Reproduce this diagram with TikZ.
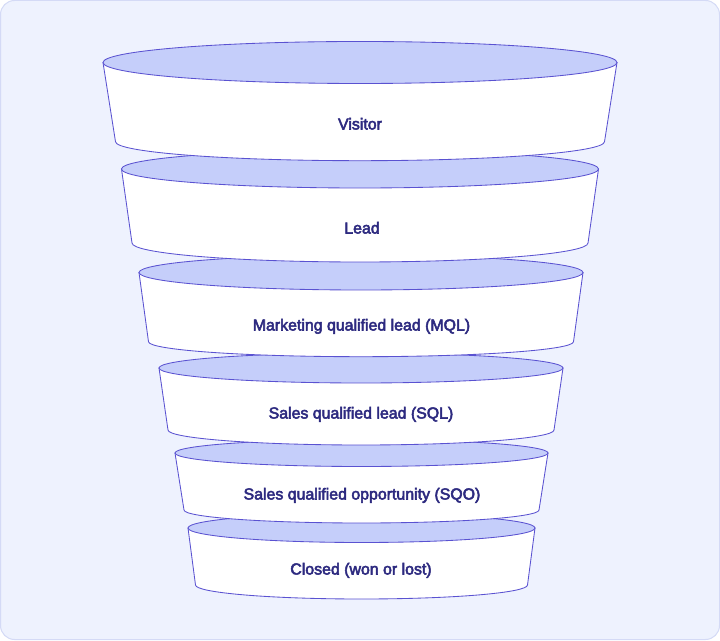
\documentclass[tikz,border=0pt]{standalone}
\usepackage{fontspec}
\setmainfont{Liberation Sans}
\newfontfamily\tierfont{Liberation Sans}[FakeBold=3.2]
\definecolor{bgfill}{HTML}{EEF2FE}
\definecolor{bgline}{HTML}{D4DAF6}
\definecolor{edge}{HTML}{5A52D1}
\definecolor{topfill}{HTML}{C5CEFA}
\definecolor{label}{HTML}{2D2A80}
\tikzset{
  body/.style={fill=white, draw=edge, line width=0.85pt, line join=round},
  lid/.style={fill=topfill, draw=edge, line width=0.85pt},
  tierlabel/.style={anchor=base, text=label, font=\tierfont\fontsize{15.9}{18}\selectfont, inner sep=0pt}
}
% #1 cx, #2 top y(px), #3 rx, #4 ry, #5 bottom y(px), #6 bottom half width, #7 bottom ry
\newcommand{\funneltier}[7]{%
  \path[body] ({#1-#3},{640-#2}) -- ({#1-#6},{640-#5})
     arc[start angle=180, end angle=360, x radius=#6, y radius=#7]
     -- ({#1+#3},{640-#2}) -- cycle;
  \path[lid] (#1,{640-#2}) ellipse[x radius=#3, y radius=#4];
}
\begin{document}
\begin{tikzpicture}[x=1pt,y=1pt]
\useasboundingbox (0,0) rectangle (720,640);
\path[fill=bgfill, draw=bgline, line width=1pt, rounded corners=14pt] (0.5,0.5) rectangle (719.5,639.5);
\funneltier{361.5}{528}{173.5}{14.5}{585}{166}{14}
\funneltier{361.5}{453}{186.5}{13.5}{510}{177.5}{13}
\funneltier{361}{368}{202}{15}{430}{193}{15}
\funneltier{361}{272.5}{222}{17.5}{341.7}{212.5}{15}
\funneltier{360}{169}{238.5}{19}{243}{228}{19}
\funneltier{360}{62.5}{257}{21}{141.7}{244.5}{19}
\node[tierlabel] (t1) at (360,{640-129.5}) {Visitor};
\node[tierlabel] (t2) at (362,{640-233.5}) {Lead};
\node[tierlabel] (t3) at (361.5,{640-330.5}) {Marketing qualified lead (MQL)};
\node[tierlabel] (t4) at (361,{640-418.5}) {Sales qualified lead (SQL)};
\node[tierlabel] (t5) at (362,{640-499.5}) {Sales qualified opportunity (SQO)};
\node[tierlabel] (t6) at (361,{640-574.5}) {Closed (won or lost)};
\end{tikzpicture}
\end{document}
